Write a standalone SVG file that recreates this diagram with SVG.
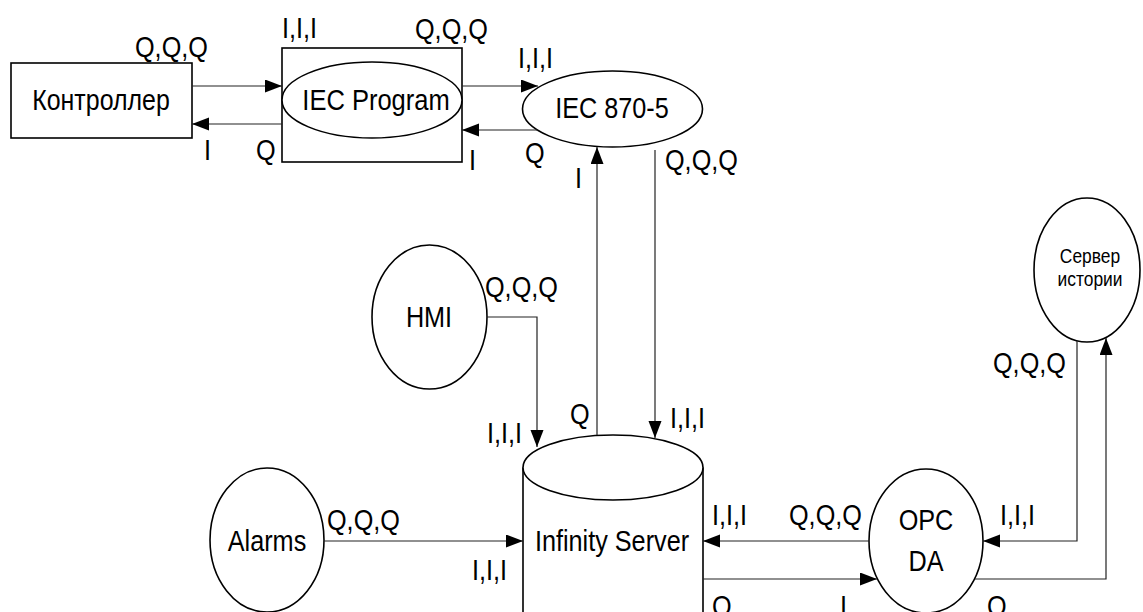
<svg xmlns="http://www.w3.org/2000/svg" width="1143" height="612" viewBox="0 0 1143 612">
<style>
text{font-family:"Liberation Sans",Arial,sans-serif;font-size:29px;fill:#000}
.n{text-anchor:middle}
.sm{font-size:20px}
.shape{fill:#fff;stroke:#000;stroke-width:1.6}
.c{fill:none;stroke:#222;stroke-width:1.2}
</style>
<defs>
<marker id="a" markerUnits="userSpaceOnUse" markerWidth="18" markerHeight="14" refX="17" refY="6.5" orient="auto">
<path d="M0,0 L17,6.5 L0,13 z" fill="#000"/>
</marker>
</defs>
<g id="controller"><rect class="shape" x="11" y="63" width="181" height="75"/><text class="n" transform="translate(101,110) scale(0.86,1)">Контроллер</text></g>
<g id="iec-program"><rect class="shape" x="282" y="48" width="180" height="114"/><ellipse class="shape" cx="372" cy="100" rx="90" ry="38"/><text class="n" transform="translate(376,110) scale(0.88,1)">IEC Program</text></g>
<g id="iec870"><ellipse class="shape" cx="612.5" cy="109" rx="90" ry="38"/><text class="n" transform="translate(612,118) scale(0.87,1)">IEC 870-5</text></g>
<g id="hmi"><ellipse class="shape" cx="429.5" cy="317" rx="57.5" ry="72"/><text class="n" transform="translate(429,327) scale(0.87,1)">HMI</text></g>
<g id="alarms"><ellipse class="shape" cx="267" cy="540" rx="57" ry="72"/><text class="n" transform="translate(267,551) scale(0.87,1)">Alarms</text></g>
<g id="infinity"><path class="shape" d="M523,467.5 V640 H703 V467.5"/><ellipse class="shape" cx="613" cy="467.5" rx="90" ry="32.5"/><text class="n" transform="translate(612,551) scale(0.87,1)">Infinity Server</text></g>
<g id="opc"><ellipse class="shape" cx="926" cy="541" rx="57" ry="72"/><text class="n" transform="translate(926,530) scale(0.87,1)">OPC</text><text class="n" transform="translate(926,571) scale(0.87,1)">DA</text></g>
<g id="history"><ellipse class="shape" cx="1087" cy="270" rx="53" ry="72"/><text class="n sm" transform="translate(1090,263) scale(0.87,1)">Сервер</text><text class="n sm" transform="translate(1090,286) scale(0.87,1)">истории</text></g>
<g id="connectors">
<path class="c" d="M192,86 H282" marker-end="url(#a)"/>
<path class="c" d="M282,124 H192" marker-end="url(#a)"/>
<path class="c" d="M462,86 H538" marker-end="url(#a)"/>
<path class="c" d="M538,130 H462" marker-end="url(#a)"/>
<path class="c" d="M597,435 V147" marker-end="url(#a)"/>
<path class="c" d="M655,150 V438" marker-end="url(#a)"/>
<path class="c" d="M487,317 H537 V447" marker-end="url(#a)"/>
<path class="c" d="M324,541 H523" marker-end="url(#a)"/>
<path class="c" d="M869,541 H703" marker-end="url(#a)"/>
<path class="c" d="M703,579 H877" marker-end="url(#a)"/>
<path class="c" d="M1077,341 V541 H983" marker-end="url(#a)"/>
<path class="c" d="M975,579 H1106 V338" marker-end="url(#a)"/>
</g>
<g id="labels">
<text transform="translate(135,57) scale(0.87,1)">Q,Q,Q</text>
<text transform="translate(282,38) scale(0.87,1)">I,I,I</text>
<text transform="translate(415,39) scale(0.87,1)">Q,Q,Q</text>
<text transform="translate(518,68) scale(0.87,1)">I,I,I</text>
<text transform="translate(204,160) scale(0.87,1)">I</text>
<text transform="translate(256,160) scale(0.87,1)">Q</text>
<text transform="translate(469,170) scale(0.87,1)">I</text>
<text transform="translate(525,163) scale(0.87,1)">Q</text>
<text transform="translate(575,188) scale(0.87,1)">I</text>
<text transform="translate(665,170) scale(0.87,1)">Q,Q,Q</text>
<text transform="translate(485,297) scale(0.87,1)">Q,Q,Q</text>
<text transform="translate(487,443) scale(0.87,1)">I,I,I</text>
<text transform="translate(570,424) scale(0.87,1)">Q</text>
<text transform="translate(670,428) scale(0.87,1)">I,I,I</text>
<text transform="translate(327,530) scale(0.87,1)">Q,Q,Q</text>
<text transform="translate(472,580) scale(0.87,1)">I,I,I</text>
<text transform="translate(712,525) scale(0.87,1)">I,I,I</text>
<text transform="translate(789,525) scale(0.87,1)">Q,Q,Q</text>
<text transform="translate(1000,525) scale(0.87,1)">I,I,I</text>
<text transform="translate(712,616) scale(0.87,1)">Q</text>
<text transform="translate(840,616) scale(0.87,1)">I</text>
<text transform="translate(987,616) scale(0.87,1)">Q</text>
<text transform="translate(993,373) scale(0.87,1)">Q,Q,Q</text>
</g>
</svg>
